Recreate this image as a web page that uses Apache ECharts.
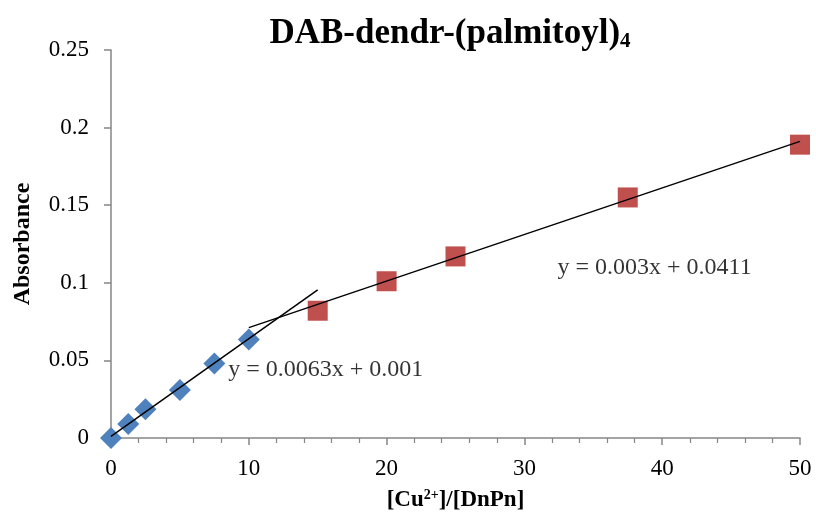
<!DOCTYPE html>
<html>
<head>
<meta charset="utf-8">
<script src="https://cdn.jsdelivr.net/npm/echarts@6/dist/echarts.min.js"></script>
<style>
  html, body { margin: 0; padding: 0; background: #fff; }
  #chart { width: 816px; height: 514px; }
</style>
</head>
<body>
<div id="chart"></div>
<script>
// blue diamonds: low ratio points
const lowX = [0, 1.25, 2.5, 5, 7.5, 10];
const lowY = [0, 0.009, 0.0185, 0.031, 0.048, 0.0635];
// red squares: high ratio points
const highX = [15, 20, 25, 37.5, 50];
const highY = [0.082, 0.101, 0.117, 0.155, 0.189];
// trendline end points (as drawn)
const trendLow = [[0, 0.001], [15, 0.0955]];
const trendHigh = [[10, 0.0711], [50, 0.1911]];
const eqLow = 'y = 0.0063x + 0.001';
const eqHigh = 'y = 0.003x + 0.0411';
const eqLowAt = [8.5, 0.044];
const eqHighAt = [32.4, 0.110];

const font = '"Liberation Serif", "Times New Roman", serif';
const axisGray = '#868686';

const chart = echarts.init(document.getElementById('chart'));

chart.setOption({
    animation: false,
    title: {
        text: 'DAB-dendr-(palmitoyl){sub|4}',
        left: 445,
        textAlign: 'center',
        top: 10,
        textStyle: {
            fontFamily: font,
            fontSize: 35,
            fontWeight: 'bold',
            color: '#000',
            rich: {
                sub: { fontFamily: font, fontSize: 21, fontWeight: 'bold', color: '#000', verticalAlign: 'bottom', padding: [16, 0, 0, 0] }
            }
        }
    },
    grid: { left: 111, right: 16, top: 50, bottom: 76, outerBoundsMode: 'none', containLabel: false },
    xAxis: {
        type: 'value',
        min: 0, max: 50, interval: 10,
        name: '[Cu{sup|2+}]/[DnPn]',
        nameLocation: 'middle',
        nameGap: 50,
        nameTextStyle: {
            fontFamily: font, fontSize: 23, fontWeight: 'bold', color: '#000',
            rich: {
                sup: { fontFamily: font, fontSize: 14, fontWeight: 'bold', color: '#000', verticalAlign: 'top', padding: [0, 0, 11, 0] }
            }
        },
        axisLine: { lineStyle: { color: axisGray, width: 1.5 } },
        axisTick: { length: 7, lineStyle: { color: axisGray, width: 1.5 } },
        minorTick: { show: true, splitNumber: 5, length: 5, lineStyle: { color: axisGray, width: 1.2 } },
        splitLine: { show: false },
        axisLabel: { fontFamily: font, fontSize: 23, color: '#000', margin: 19 }
    },
    yAxis: {
        type: 'value',
        min: 0, max: 0.25, interval: 0.05,
        name: 'Absorbance',
        nameLocation: 'middle',
        nameGap: 76,
        nameRotate: 90,
        nameTextStyle: { fontFamily: font, fontSize: 24, fontWeight: 'bold', color: '#000' },
        axisLine: { show: true, lineStyle: { color: axisGray, width: 1.5 } },
        axisTick: { show: true, length: 7, lineStyle: { color: axisGray, width: 1.5 } },
        splitLine: { show: false },
        axisLabel: { fontFamily: font, fontSize: 23, color: '#000', margin: 22 }
    },
    series: [
        {
            type: 'scatter',
            symbol: 'diamond',
            symbolSize: 22,
            itemStyle: { color: '#4F81BD', opacity: 1 },
            data: lowX.map((x, i) => [x, lowY[i]]),
            z: 2
        },
        {
            type: 'scatter',
            symbol: 'rect',
            symbolSize: 20,
            itemStyle: { color: '#C0504D', opacity: 1 },
            data: highX.map((x, i) => [x, highY[i]]),
            z: 2
        },
        {
            type: 'line',
            data: trendLow,
            showSymbol: false,
            lineStyle: { color: '#000', width: 1.5 },
            z: 3
        },
        {
            type: 'line',
            data: trendHigh,
            showSymbol: false,
            lineStyle: { color: '#000', width: 1.5 },
            z: 3
        },
        {
            type: 'scatter',
            symbolSize: 0,
            silent: true,
            data: [
                { value: eqLowAt, label: { formatter: eqLow } },
                { value: eqHighAt, label: { formatter: eqHigh } }
            ],
            label: {
                show: true,
                position: 'right',
                distance: 0,
                fontFamily: font,
                fontSize: 24,
                color: '#000'
            },
            z: 4
        }
    ]
});
</script>
</body>
</html>
